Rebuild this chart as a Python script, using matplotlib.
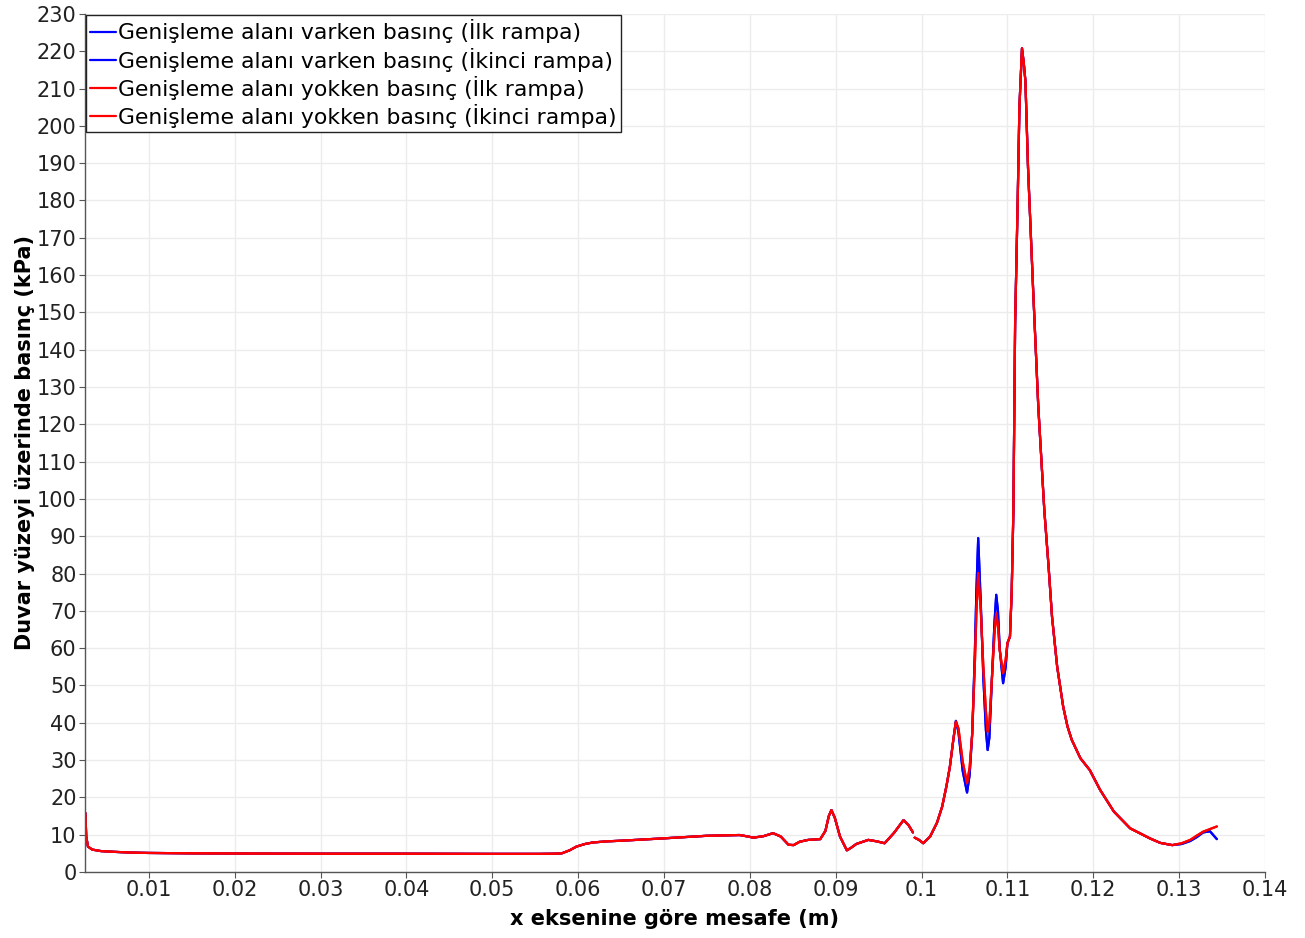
import numpy as np
import matplotlib
matplotlib.use("Agg")
import matplotlib.pyplot as plt

# ---- data ----
x_m = [0.0026, 0.0027, 0.0029, 0.0034, 0.0044, 0.0059, 0.0079, 0.0099, 0.0149, 0.0199,
       0.0299, 0.0399, 0.0498, 0.0555, 0.0573, 0.0581, 0.0590, 0.0598, 0.0608, 0.0617,
       0.0633, 0.0652, 0.0699, 0.0750, 0.0788, 0.0798, 0.0804, 0.0816, 0.0827, 0.0836,
       0.0845, 0.0851, 0.0858, 0.0868, 0.0882, 0.0888, 0.0892, 0.0895, 0.0899, 0.0905,
       0.0913, 0.0918, 0.0924, 0.0938, 0.0948, 0.0957, 0.0968, 0.0979, 0.0985, 0.0990,
       0.0991, 0.0992, 0.0997, 0.1002, 0.1010, 0.1018, 0.1024, 0.1029, 0.1033, 0.1037,
       0.1040, 0.1043, 0.1048, 0.1053, 0.1056, 0.1059, 0.1062, 0.1064, 0.1066, 0.1069,
       0.1072, 0.1075, 0.1077, 0.1079, 0.1082, 0.1085, 0.1087, 0.1089, 0.1091, 0.1095,
       0.1098, 0.1100, 0.1103, 0.1105, 0.1107, 0.1109, 0.1112, 0.1114, 0.1117, 0.1119,
       0.1121, 0.1124, 0.1130, 0.1136, 0.1143, 0.1148, 0.1152, 0.1158, 0.1165, 0.1170,
       0.1175, 0.1185, 0.1196, 0.1208, 0.1224, 0.1243, 0.1266, 0.1278, 0.1292, 0.1303,
       0.1313, 0.1321, 0.1328, 0.1336, 0.1344]

nan = float("nan")

p_yokken_ilk = [15.8, 9.5, 6.8, 6.0, 5.6, 5.4, 5.2, 5.1, 5.0, 4.95,
                4.9, 4.9, 4.85, 4.85, 4.9, 5.0, 5.8, 6.8, 7.5, 7.9,
                8.2, 8.4, 9.0, 9.7, 9.9, 9.5, 9.2, 9.6, 10.4, 9.5,
                7.3, 7.2, 8.1, 8.6, 8.8, 11.0, 15.0, 16.6, 14.5, 9.5,
                5.8, 6.5, 7.5, 8.6, 8.2, 7.7, 10.5, 13.9, 12.5, 10.6,
                nan, 9.2, 8.6, 7.7, 9.5, 13.2, 17.5, 23.0, 28.2, 35.4,
                40.3, 38.5, 29.5, 23.8, 28.0, 37.0, 55.0, 70.0, 80.1, 70.0,
                55.0, 43.0, 37.6, 40.0, 52.0, 64.0, 69.3, 66.0, 59.5, 53.3,
                57.0, 61.3, 63.1, 75.0, 97.0, 147.0, 180.0, 205.0, 220.8, 217.0,
                212.0, 189.0, 156.0, 124.7, 97.0, 81.8, 68.4, 55.0, 44.3, 39.0,
                35.4, 30.5, 27.3, 22.0, 16.2, 11.7, 9.0, 7.8, 7.2, 7.7,
                8.6, 9.8, 10.8, 11.5, 12.2]
p_yokken_ikinci = list(p_yokken_ilk)

p_varken_ilk = [15.8, 9.5, 6.8, 6.0, 5.6, 5.4, 5.2, 5.1, 5.0, 4.95,
                4.9, 4.9, 4.85, 4.85, 4.9, 5.0, 5.8, 6.8, 7.5, 7.9,
                8.2, 8.4, 9.0, 9.7, 9.9, 9.5, 9.2, 9.6, 10.4, 9.5,
                7.3, 7.2, 8.1, 8.6, 8.8, 11.0, 15.0, 16.6, 14.5, 9.5,
                5.8, 6.5, 7.5, 8.6, 8.2, 7.7, 10.5, 13.9, 12.5, 10.6,
                nan, 9.2, 8.6, 7.7, 9.5, 13.2, 17.5, 23.0, 28.2, 35.4,
                40.5, 37.5, 27.0, 21.3, 26.0, 37.0, 58.0, 76.0, 89.5, 72.0,
                52.0, 38.0, 32.7, 36.0, 52.0, 67.0, 74.3, 70.0, 60.0, 50.6,
                55.0, 61.3, 63.1, 75.0, 97.0, 147.0, 180.0, 205.0, 220.8, 217.0,
                212.0, 189.0, 156.0, 124.7, 97.0, 81.8, 68.4, 55.0, 44.3, 39.0,
                35.4, 30.5, 27.3, 22.0, 16.2, 11.7, 9.0, 7.8, 7.2, 7.5,
                8.3, 9.4, 10.6, 10.9, 8.8]
p_varken_ikinci = list(p_varken_ilk)

labels = ["Genişleme alanı varken basınç (İlk rampa)",
          "Genişleme alanı varken basınç (İkinci rampa)",
          "Genişleme alanı yokken basınç (İlk rampa)",
          "Genişleme alanı yokken basınç (İkinci rampa)"]
x_ticks = [0.01, 0.02, 0.03, 0.04, 0.05, 0.06, 0.07, 0.08, 0.09, 0.1, 0.11, 0.12, 0.13, 0.14]
x_ticklabels = ["0.01", "0.02", "0.03", "0.04", "0.05", "0.06", "0.07", "0.08", "0.09",
                "0.1", "0.11", "0.12", "0.13", "0.14"]
y_ticks = list(range(0, 231, 10))

# ---- plot ----
plt.rcParams["font.family"] = ["DejaVu Sans"]
fig = plt.figure(figsize=(13.05, 9.38), dpi=100)
ax = fig.add_axes([0.0651, 0.0704, 0.9042, 0.9147])

series = [p_varken_ilk, p_varken_ikinci, p_yokken_ilk, p_yokken_ikinci]
colors = ["#0000ff", "#0000ff", "#ff0000", "#ff0000"]
for yv, c, lab in zip(series, colors, labels):
    ax.plot(x_m, yv, color=c, lw=1.6, label=lab, solid_capstyle="round",
            solid_joinstyle="round")

ax.set_xlim(0.00255, 0.14)
ax.set_ylim(0, 230)
ax.set_xticks(x_ticks)
ax.set_xticklabels(x_ticklabels)
ax.set_yticks(y_ticks)
ax.grid(True, color="#ececec", lw=1.0)
ax.set_axisbelow(True)
for s in ["top", "right"]:
    ax.spines[s].set_visible(False)
for s in ["left", "bottom"]:
    ax.spines[s].set_color("#555555")
    ax.spines[s].set_linewidth(1.0)
ax.tick_params(axis="both", direction="out", length=4, width=0.8, color="#555555",
               labelsize=15, labelcolor="#222222", pad=2)

ax.set_xlabel("x eksenine göre mesafe (m)", fontsize=15, fontweight="bold", labelpad=6)
ax.set_ylabel("Duvar yüzeyi üzerinde basınç (kPa)", fontsize=15, fontweight="bold", labelpad=1)

leg = ax.legend(loc="upper left", bbox_to_anchor=(0.0, 1.0), fontsize=15.75, frameon=True,
                fancybox=False, edgecolor="#222222", framealpha=1.0, borderaxespad=0.05,
                handlelength=1.15, handletextpad=0.12, labelspacing=0.19, borderpad=0.2)
leg.get_frame().set_linewidth(1.0)

fig.savefig("out.png", dpi=100)
